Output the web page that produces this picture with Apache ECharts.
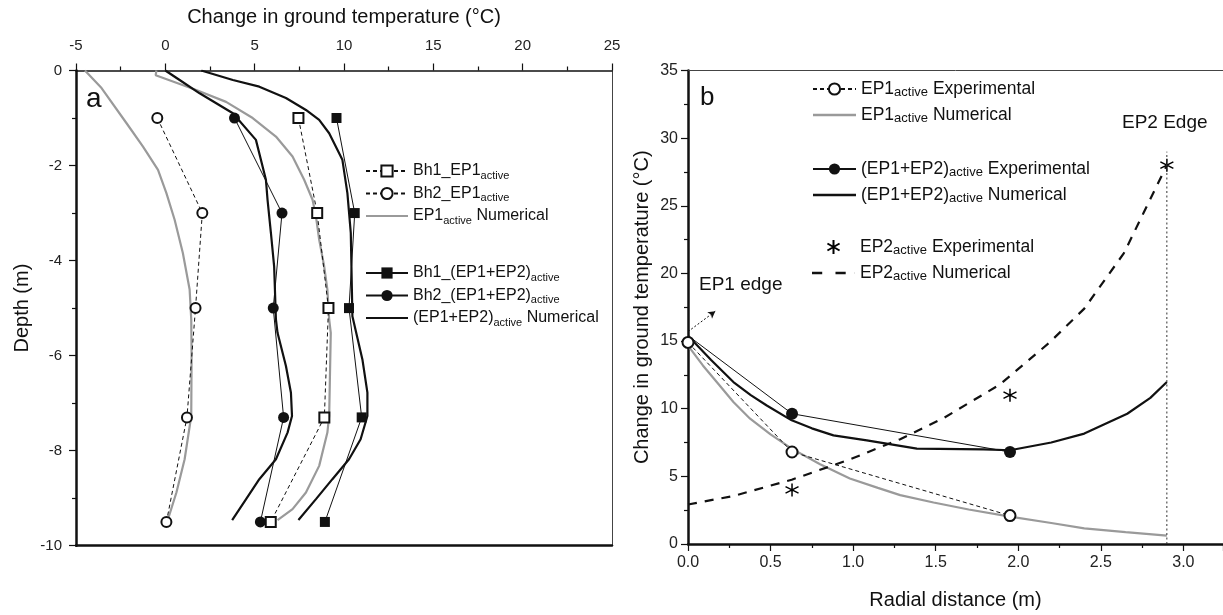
<!DOCTYPE html>
<html>
<head>
<meta charset="utf-8">
<title>Change in ground temperature</title>
<script src="https://cdn.jsdelivr.net/npm/echarts@6/dist/echarts.min.js"></script>
<style>
  html, body { margin: 0; padding: 0; background: #fff; }
  #main { width: 1223px; height: 615px; }
</style>
</head>
<body>
<div id="main"></div>
<script>
// panel a: depth profiles
const depthExp = [-1, -3, -5, -7.3, -9.5];
const bh1Ep1 = [7.45, 8.5, 9.13, 8.9, 5.9];
const bh2Ep1 = [-0.45, 2.07, 1.69, 1.21, 0.06];
const bh1Both = [9.58, 10.6, 10.28, 10.99, 8.93];
const bh2Both = [3.87, 6.53, 6.04, 6.62, 5.32];

const ep1NumBh2Depth = [0, -0.37, -1.11, -1.6, -2.09, -2.58, -3.14, -3.84, -4.61, -5.24, -6.0, -7.27, -8.18, -8.88, -9.44];
const ep1NumBh2Temp = [-4.5, -3.57, -2.17, -1.25, -0.41, 0.06, 0.52, 0.98, 1.36, 1.45, 1.47, 1.45, 1.08, 0.62, 0.15];
const ep1NumBh1Depth = [0, -0.1, -0.41, -0.66, -1.0, -1.39, -1.81, -2.3, -2.72, -3.07, -3.56, -4.12, -4.61, -5.24, -5.52, -7.27, -7.62, -8.32, -8.88, -9.23, -9.46];
const ep1NumBh1Temp = [-0.5, -0.54, 1.73, 3.4, 4.89, 6.19, 7.12, 7.77, 8.24, 8.43, 8.61, 8.89, 9.07, 9.17, 9.26, 9.17, 9.07, 8.61, 7.87, 7.12, 6.28];
const bothNumBh2Depth = [0, -0.2, -0.48, -0.69, -0.9, -1.46, -2.3, -2.72, -3.42, -4.12, -5.24, -5.52, -6.22, -6.78, -7.27, -7.62, -8.18, -8.6, -9.02, -9.46];
const bothNumBh2Temp = [0, 0.8, 1.92, 2.85, 3.78, 5.07, 5.63, 5.72, 5.91, 6.09, 6.19, 6.28, 6.75, 7.03, 7.09, 6.84, 6.19, 5.26, 4.52, 3.74];
const bothNumBh1Depth = [0, -0.2, -0.34, -0.58, -0.83, -1.04, -1.32, -1.88, -2.58, -3.42, -5.17, -6.08, -6.78, -7.27, -7.76, -8.18, -8.6, -9.02, -9.46];
const bothNumBh1Temp = [2.01, 3.78, 5.26, 6.75, 7.87, 8.61, 9.17, 9.91, 10.19, 10.38, 10.47, 11.03, 11.31, 11.31, 10.93, 10.28, 9.35, 8.43, 7.45];

// panel b: radial distance
const radialExp = [0, 0.63, 1.95];
const ep1Exp = [14.9, 6.8, 2.1];
const bothExp = [15.4, 9.63, 6.8];
const ep2ExpDist = [0.63, 1.95, 2.9];
const ep2Exp = [4.0, 11.0, 28.0];

const ep1NumDist = [0, 0.09, 0.174, 0.275, 0.376, 0.5, 0.628, 0.8, 0.98, 1.15, 1.285, 1.487, 1.7, 1.95, 2.2, 2.4, 2.65, 2.9];
const ep1Num = [14.67, 13.2, 11.97, 10.5, 9.26, 8.1, 7.05, 5.9, 4.84, 4.15, 3.61, 3.07, 2.55, 2.02, 1.55, 1.16, 0.88, 0.62];
const bothNumDist = [0, 0.14, 0.275, 0.38, 0.477, 0.628, 0.75, 0.881, 1.083, 1.386, 1.79, 1.95, 2.2, 2.4, 2.66, 2.8, 2.9];
const bothNum = [15.4, 13.6, 11.97, 11.0, 10.24, 9.14, 8.55, 8.03, 7.66, 7.05, 7.0, 6.93, 7.5, 8.16, 9.63, 10.8, 11.97];
const ep2NumDist = [0, 0.275, 0.628, 0.98, 1.285, 1.547, 1.89, 2.19, 2.4, 2.47, 2.64, 2.76, 2.9];
const ep2Num = [2.92, 3.55, 4.75, 6.25, 7.75, 9.3, 11.8, 14.9, 17.4, 18.6, 21.5, 24.5, 28.0];

const ep2EdgeDist = [2.9, 2.9];
const ep2EdgeTemp = [0, 29];
const ep1EdgeArrow = [[0, 15.7], [0.165, 17.2]];

const pairs = (xs, ys) => xs.map((x, i) => [x, ys[i]]);

const font = 'Liberation Sans, Arial, sans-serif';
const ink = '#111';
const gray = '#9a9a9a';

const labelsA = {
    bh1Ep1: '{m|Bh1_EP1}{s|active}',
    bh2Ep1: '{m|Bh2_EP1}{s|active}',
    ep1NumA: '{m|EP1}{s|active}{m| Numerical}',
    bh1Both: '{m|Bh1_(EP1+EP2)}{s|active}',
    bh2Both: '{m|Bh2_(EP1+EP2)}{s|active}',
    bothNumA: '{m|(EP1+EP2)}{s|active}{m| Numerical}'
};
const labelsB = {
    ep1ExpB: '{m|EP1}{s|active}{m| Experimental}',
    ep1NumB: '{m|EP1}{s|active}{m| Numerical}',
    bothExpB: '{m|(EP1+EP2)}{s|active}{m| Experimental}',
    bothNumB: '{m|(EP1+EP2)}{s|active}{m| Numerical}',
    ep2ExpB: '{m|EP2}{s|active}{m| Experimental}',
    ep2NumB: '{m|EP2}{s|active}{m| Numerical}'
};

const richA = {
    m: { fontSize: 16, lineHeight: 20, fontFamily: font, color: ink },
    s: { fontSize: 11, lineHeight: 8, verticalAlign: 'bottom', fontFamily: font, color: ink }
};
const richB = {
    m: { fontSize: 17.5, lineHeight: 20, fontFamily: font, color: ink },
    s: { fontSize: 13, lineHeight: 8, verticalAlign: 'bottom', fontFamily: font, color: ink }
};

// legend icons for the plain curves (line series would otherwise add a dot)
const solidIcon = 'path://M0 0 H42 V2.2 H0 Z';
const dashIcon = 'path://M0 0 H10 V2.4 H0 Z M23 0 H33 V2.4 H23 Z M42 0 H42.1 V2.4 H42 Z';

function legend(items, left, top, gap, labels, rich, width) {
    return {
        orient: 'vertical', left: left, top: top, padding: 0,
        itemWidth: width, itemHeight: 14, itemGap: gap,
        selectedMode: false,
        data: items,
        formatter: n => labels[n],
        textStyle: { rich: rich }
    };
}

function axisBase(extra) {
    return Object.assign({
        type: 'value',
        splitLine: { show: false },
        axisLine: { onZero: false, lineStyle: { color: ink, width: 2.5 } },
        axisTick: { length: 7, lineStyle: { color: ink, width: 1.2 } },
        minorTick: { show: true, splitNumber: 2, length: 4, lineStyle: { color: ink, width: 1.2 } },
        axisLabel: { color: '#222', fontSize: 15, fontFamily: font },
        nameTextStyle: { color: ink, fontSize: 20, fontFamily: font },
        nameLocation: 'middle'
    }, extra);
}

function frame(extra) {
    return Object.assign({
        type: 'value',
        splitLine: { show: false },
        axisTick: { show: false },
        axisLabel: { show: false },
        axisLine: { onZero: false, lineStyle: { color: '#444', width: 1 } }
    }, extra);
}

const asterisk = 'path://M5 0 L5 10 M0.67 2.5 L9.33 7.5 M0.67 7.5 L9.33 2.5';

let chart = echarts.init(document.getElementById('main'));
const option = {
    animation: false,
    backgroundColor: '#fff',
    grid: [
        { left: 76, right: 611, top: 70.5, bottom: 69.3 },
        { left: 688, right: 0, top: 70.5, bottom: 69.3 }
    ],
    xAxis: [
        axisBase({
            gridIndex: 0, position: 'top', min: -5, max: 25, interval: 5,
            axisLine: { onZero: false, lineStyle: { color: ink, width: 1.5 } },
            axisLabel: { color: '#222', fontSize: 15, fontFamily: font, margin: 17 },
            name: 'Change in ground temperature (°C)', nameGap: 43
        }),
        frame({ gridIndex: 0, position: 'bottom', min: -5, max: 25,
            axisLine: { onZero: false, lineStyle: { color: ink, width: 2.5 } } }),
        axisBase({
            gridIndex: 1, position: 'bottom', min: 0, max: 3.24, interval: 0.5,
            axisLabel: { color: '#222', fontSize: 16, fontFamily: font, margin: 11, showMaxLabel: false,
                formatter: v => v.toFixed(1) },
            name: 'Radial distance (m)', nameGap: 46
        }),
        frame({ gridIndex: 1, position: 'top', min: 0, max: 3.24 })
    ],
    yAxis: [
        axisBase({
            gridIndex: 0, position: 'left', min: -10, max: 0, interval: 2,
            axisLabel: { color: '#222', fontSize: 15, fontFamily: font, margin: 14 },
            name: 'Depth (m)', nameGap: 44
        }),
        frame({ gridIndex: 0, position: 'right', min: -10, max: 0 }),
        axisBase({
            gridIndex: 1, position: 'left', min: 0, max: 35, interval: 5,
            axisLabel: { color: '#222', fontSize: 16, fontFamily: font, margin: 10 },
            name: 'Change in ground temperature (°C)', nameGap: 36
        })
    ],
    legend: [
        legend(['bh1Ep1', 'bh2Ep1', { name: 'ep1NumA', icon: solidIcon }], 365, 163, 4.5, labelsA, richA, 42),
        legend(['bh1Both', 'bh2Both', { name: 'bothNumA', icon: solidIcon }], 365, 265, 4.5, labelsA, richA, 42),
        legend(['ep1ExpB', { name: 'ep1NumB', icon: solidIcon }], 812, 80, 7, labelsB, richB, 43),
        legend(['bothExpB', { name: 'bothNumB', icon: solidIcon }], 812, 160, 7, labelsB, richB, 43),
        legend(['ep2ExpB', { name: 'ep2NumB', icon: dashIcon }], 812, 238, 7, labelsB, richB, 43)
    ],
    graphic: [
        { type: 'text', x: 86, y: 99, style: { text: 'a', fill: ink, font: '28px ' + font, verticalAlign: 'middle' } },
        { type: 'text', x: 700, y: 98, style: { text: 'b', fill: ink, font: '26px ' + font, verticalAlign: 'middle' } },
        { type: 'text', x: 699, y: 285, style: { text: 'EP1 edge', fill: ink, font: '19px ' + font, verticalAlign: 'middle' } },
        { type: 'text', x: 1122, y: 123, style: { text: 'EP2 Edge', fill: ink, font: '19px ' + font, verticalAlign: 'middle' } }
    ],
    series: [
        // numerical curves, panel a
        { name: 'ep1NumA', type: 'line', xAxisIndex: 0, yAxisIndex: 0, showSymbol: false, symbol: 'none',
          data: pairs(ep1NumBh2Temp, ep1NumBh2Depth), color: gray, lineStyle: { width: 2.2, color: gray } },
        { name: 'ep1NumA', type: 'line', xAxisIndex: 0, yAxisIndex: 0, showSymbol: false, symbol: 'none',
          data: pairs(ep1NumBh1Temp, ep1NumBh1Depth), color: gray, lineStyle: { width: 2.2, color: gray } },
        { name: 'bothNumA', type: 'line', xAxisIndex: 0, yAxisIndex: 0, showSymbol: false, symbol: 'none',
          data: pairs(bothNumBh2Temp, bothNumBh2Depth), color: ink, lineStyle: { width: 2.2, color: ink } },
        { name: 'bothNumA', type: 'line', xAxisIndex: 0, yAxisIndex: 0, showSymbol: false, symbol: 'none',
          data: pairs(bothNumBh1Temp, bothNumBh1Depth), color: ink, lineStyle: { width: 2.2, color: ink } },
        // measurements, panel a
        { name: 'bh1Ep1', type: 'line', xAxisIndex: 0, yAxisIndex: 0, symbol: 'emptyRect', symbolSize: 10,
          data: pairs(bh1Ep1, depthExp), color: ink, itemStyle: { borderWidth: 1 },
          lineStyle: { width: 1, color: ink, type: [4, 3] } },
        { name: 'bh2Ep1', type: 'line', xAxisIndex: 0, yAxisIndex: 0, symbol: 'emptyCircle', symbolSize: 10,
          data: pairs(bh2Ep1, depthExp), color: ink, itemStyle: { borderWidth: 1 },
          lineStyle: { width: 1, color: ink, type: [4, 3] } },
        { name: 'bh1Both', type: 'line', xAxisIndex: 0, yAxisIndex: 0, symbol: 'rect', symbolSize: 10,
          data: pairs(bh1Both, depthExp), color: ink, lineStyle: { width: 1, color: ink } },
        { name: 'bh2Both', type: 'line', xAxisIndex: 0, yAxisIndex: 0, symbol: 'circle', symbolSize: 11,
          data: pairs(bh2Both, depthExp), color: ink, lineStyle: { width: 1, color: ink } },

        // panel b
        { name: 'ep1NumB', type: 'line', xAxisIndex: 2, yAxisIndex: 2, showSymbol: false, symbol: 'none',
          data: pairs(ep1NumDist, ep1Num), color: gray, lineStyle: { width: 2.2, color: gray } },
        { name: 'bothNumB', type: 'line', xAxisIndex: 2, yAxisIndex: 2, showSymbol: false, symbol: 'none',
          data: pairs(bothNumDist, bothNum), color: ink, lineStyle: { width: 2.2, color: ink } },
        { name: 'ep2NumB', type: 'line', xAxisIndex: 2, yAxisIndex: 2, showSymbol: false, symbol: 'none',
          data: pairs(ep2NumDist, ep2Num), color: ink, lineStyle: { width: 2.2, color: ink, type: [9, 8] } },
        { name: 'edge', type: 'line', xAxisIndex: 2, yAxisIndex: 2, showSymbol: false, symbol: 'none',
          data: pairs(ep2EdgeDist, ep2EdgeTemp), color: '#333', lineStyle: { width: 1, color: '#333', type: [2, 2.5] },
          markLine: {
              silent: true, symbol: ['none', 'arrow'], symbolSize: [6, 7],
              lineStyle: { color: ink, width: 1, type: [2, 2] }, label: { show: false },
              data: [[{ coord: ep1EdgeArrow[0] }, { coord: ep1EdgeArrow[1] }]]
          } },
        { name: 'ep1ExpB', type: 'line', xAxisIndex: 2, yAxisIndex: 2, symbol: 'emptyCircle', symbolSize: 11,
          data: pairs(radialExp, ep1Exp), color: ink, itemStyle: { borderWidth: 1 },
          lineStyle: { width: 1, color: ink, type: [4, 3] } },
        // the measured line starts at the pile wall, where no marker is drawn
        { name: 'bothExpB', type: 'line', xAxisIndex: 2, yAxisIndex: 2, symbol: 'circle', symbolSize: 12,
          data: pairs(radialExp, bothExp).map((p, i) => i === 0 ? { value: p, symbol: 'none' } : p),
          color: ink, lineStyle: { width: 1, color: ink } },
        { name: 'ep2ExpB', type: 'scatter', xAxisIndex: 2, yAxisIndex: 2, symbol: asterisk, symbolSize: 13,
          data: pairs(ep2ExpDist, ep2Exp),
          itemStyle: { color: 'rgba(0,0,0,0)', borderColor: '#000', borderWidth: 1.5, opacity: 1 } }
    ]
};
chart.setOption(option);
</script>
</body>
</html>
